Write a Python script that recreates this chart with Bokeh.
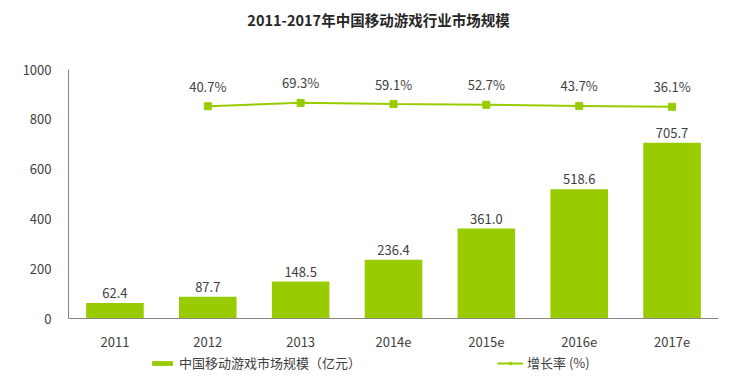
from bokeh.plotting import figure
from bokeh.models import (ColumnDataSource, Range1d, FixedTicker,
                          Legend, LegendItem, FactorRange)
from bokeh.layouts import column
from bokeh.core.properties import value
from bokeh.embed import file_html
from bokeh.resources import INLINE

# ---- data ----
years = ["2011", "2012", "2013", "2014e", "2015e", "2016e", "2017e"]
market = [62.4, 87.7, 148.5, 236.4, 361.0, 518.6, 705.7]
growth_years = ["2012", "2013", "2014e", "2015e", "2016e", "2017e"]
growth = [40.7, 69.3, 59.1, 52.7, 43.7, 36.1]
y_ticks = [0, 200, 400, 600, 800, 1000]

title = "2011-2017年中国移动游戏行业市场规模"
bar_name = "中国移动游戏市场规模（亿元）"
line_name = "增长率 (%)"

GREEN = "#99CC00"
TEXT = "#404040"
AXIS = "#868686"
FONT = "Noto Sans CJK SC"
W = 731

bar_src = ColumnDataSource(dict(x=years, y=market,
                                lbl=["%.1f" % v for v in market]))
line_src = ColumnDataSource(dict(x=growth_years, y=growth,
                                 lbl=["%.1f%%" % v for v in growth]))

# ---- title strip ----
tf = figure(width=W, height=40, output_backend="svg", toolbar_location=None,
            x_axis_location=None, y_axis_location=None,
            x_range=Range1d(0, 1), y_range=Range1d(0, 1), min_border=0)
tf.outline_line_color = None
tf.grid.visible = False
tf.text(x=[0.5], y=[0.5], text=[title], text_align="center",
        text_baseline="middle", x_offset=-15, y_offset=-1,
        text_font=value(FONT), text_font_size="14.5px",
        text_font_style="bold", text_color="#262626")

# ---- main chart ----
p = figure(width=W, height=314, output_backend="svg", toolbar_location=None,
           x_range=FactorRange(factors=years, range_padding=0),
           y_range=Range1d(0, 1000),
           min_border_left=68, min_border_right=13, min_border_top=29,
           min_border_bottom=36)
p.extra_y_ranges = {"pct": Range1d(start=-1745, end=350)}
p.outline_line_color = None
p.xgrid.grid_line_color = None
p.ygrid.grid_line_color = None

for ax in (p.xaxis[0], p.yaxis[0]):
    ax.axis_line_color = AXIS
    ax.axis_line_width = 1
    ax.major_tick_line_color = None
    ax.minor_tick_line_color = None
    ax.major_tick_out = 0
    ax.major_tick_in = 0
    ax.major_label_text_font = FONT
    ax.major_label_text_font_size = "13px"
    ax.major_label_text_color = TEXT
p.xaxis[0].major_label_standoff = 18
p.yaxis[0].major_label_standoff = 17
p.yaxis[0].ticker = FixedTicker(ticks=y_ticks)

p.vbar(x="x", top="y", width=0.62, source=bar_src, fill_color=GREEN,
       line_color=None)
p.text(x="x", y="y", text="lbl", source=bar_src, text_align="center",
       text_baseline="middle", y_offset=-10, text_font=value(FONT),
       text_font_size="13px", text_color=TEXT)

p.line(x="x", y="y", source=line_src, y_range_name="pct",
       line_color=GREEN, line_width=2)
p.scatter(x="x", y="y", source=line_src, y_range_name="pct",
          marker="square", size=7, fill_color=GREEN, line_color=GREEN)
p.text(x="x", y="y", text="lbl", source=line_src, y_range_name="pct",
       text_align="center", text_baseline="middle", y_offset=-20,
       text_font=value(FONT), text_font_size="13px", text_color=TEXT)

# ---- legend strip (same sources; its view range shows none of the marks) ----
lf = figure(width=W, height=20, output_backend="svg", toolbar_location=None,
            x_axis_location=None, y_axis_location=None,
            x_range=FactorRange(factors=years, range_padding=0),
            y_range=Range1d(5000, 6000), min_border=0)
lf.outline_line_color = None
lf.grid.visible = False
lb = lf.vbar(x="x", top="y", width=0.62, source=bar_src, fill_color=GREEN,
             line_color=None)
ll = lf.line(x="x", y="y", source=line_src, line_color=GREEN, line_width=2)
lm = lf.scatter(x="x", y="y", source=line_src, marker="square", size=7,
                fill_color=GREEN, line_color=GREEN)
legend = Legend(items=[LegendItem(label=bar_name, renderers=[lb]),
                       LegendItem(label=line_name, renderers=[ll, lm])],
                orientation="horizontal", location=(81, 2),
                padding=0, margin=0, spacing=136, label_standoff=4,
                glyph_width=26, glyph_height=6, label_height=16,
                border_line_color=None, background_fill_alpha=0,
                label_text_font=FONT, label_text_font_size="13px",
                label_text_color=TEXT)
lf.add_layout(legend, "center")

layout = column(tf, p, lf, spacing=0)
open("out.html", "w").write(file_html(layout, INLINE))
